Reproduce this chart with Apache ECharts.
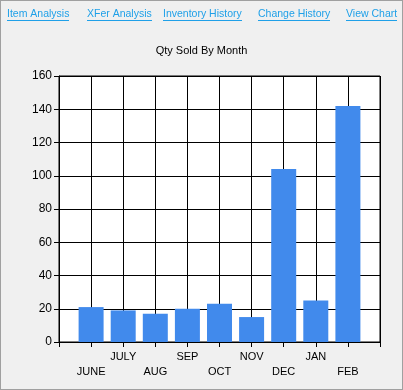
<!DOCTYPE html>
<html>
<head>
<meta charset="utf-8">
<script src="https://cdn.jsdelivr.net/npm/echarts@6/dist/echarts.min.js"></script>
<style>
  html, body { margin: 0; padding: 0; background: #f0f0f0; }
  #frame { position: absolute; left: 0; top: 0; width: 403px; height: 390px; box-sizing: border-box; border: 1px solid #a0a0a0; }
  #chart { position: absolute; left: 0; top: 0; width: 403px; height: 390px; }
</style>
</head>
<body>
<div id="chart"></div>
<div id="frame"></div>
<script>
const months = ['JUNE', 'JULY', 'AUG', 'SEP', 'OCT', 'NOV', 'DEC', 'JAN', 'FEB'];
const qtySold = [21, 19, 17, 20, 23, 15, 104, 25, 142];
const yTicks = [0, 20, 40, 60, 80, 100, 120, 140, 160];
const links = ['Item Analysis', 'XFer Analysis', 'Inventory History', 'Change History', 'View Chart'];
const linkX = [7, 87, 163, 258, 346];
const chartTitle = 'Qty Sold By Month';

const FONT = '"Liberation Sans", Arial, sans-serif';
const cats = [''].concat(months, ['']);
const vals = ['-'].concat(qtySold, ['-']);

const LINK_FONT = '10.5px ' + FONT;
const ctx = document.createElement('canvas').getContext('2d');
ctx.font = LINK_FONT;
const linkGraphics = [];
links.forEach((t, i) => {
  const w = ctx.measureText(t).width;
  linkGraphics.push({
    type: 'text', left: linkX[i], top: 9,
    style: { text: t, fill: '#1fa0e8', font: LINK_FONT }
  });
  linkGraphics.push({
    type: 'rect', left: linkX[i], top: 20,
    shape: { x: 0, y: 0, width: Math.round(w), height: 1 },
    style: { fill: '#1fa0e8' }
  });
});

const chart = echarts.init(document.getElementById('chart'), null, { renderer: 'canvas' });
chart.setOption({
  backgroundColor: '#f0f0f0',
  animation: false,
  title: {
    text: chartTitle, left: 'center', top: 40,
    textStyle: { fontSize: 11, fontWeight: 'normal', color: '#000', fontFamily: FONT }
  },
  graphic: linkGraphics,
  grid: {
    left: 59, top: 76, right: 23, bottom: 48,
    show: true, backgroundColor: '#fff', borderColor: '#000', borderWidth: 1
  },
  xAxis: {
    type: 'category', data: cats, boundaryGap: false,
    axisLine: { lineStyle: { color: '#000', width: 1 } },
    axisTick: { show: true, length: 5, lineStyle: { color: '#000' }, interval: 0 },
    splitLine: { show: true, interval: 0, lineStyle: { color: '#000', width: 1 } },
    axisLabel: {
      interval: 0, color: '#000', fontSize: 11, fontFamily: FONT, margin: 7, lineHeight: 15,
      formatter: (v, i) => (i % 2 === 1 ? '\n' + v : v)
    }
  },
  yAxis: {
    type: 'value', min: 0, max: 160, interval: 20,
    axisLine: { show: true, lineStyle: { color: '#000', width: 1 } },
    axisTick: { show: true, length: 5, lineStyle: { color: '#000' } },
    splitLine: { show: true, lineStyle: { color: '#000', width: 1 } },
    axisLabel: {
      color: '#000', fontSize: 12, fontFamily: FONT, margin: 7,
      formatter: v => (yTicks.indexOf(v) >= 0 ? String(v) : '')
    }
  },
  series: [{
    type: 'bar', data: vals, barWidth: 25,
    itemStyle: { color: '#418aec' }
  }]
});
</script>
</body>
</html>
